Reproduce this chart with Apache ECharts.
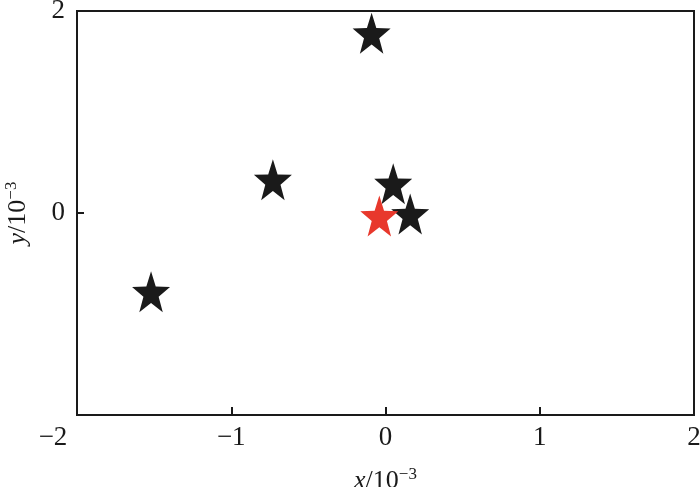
<!DOCTYPE html>
<html>
<head>
<meta charset="utf-8">
<script src="https://cdn.jsdelivr.net/npm/echarts@6/dist/echarts.min.js"></script>
<style>html,body{margin:0;padding:0;background:#fff;}#c{width:700px;height:487px;}</style>
</head>
<body>
<div id="c"></div>
<script>
// Data (units of 10^-3)
var blackX = [-0.09, -0.73, -1.52, 0.05, 0.16];
var blackY = [1.78, 0.33, -0.78, 0.29, -0.01];
var redX = [-0.04];
var redY = [-0.03];
var xTicks = [-2, -1, 0, 1, 2];
var yTicks = [-2, 0, 2];

var STAR = 'path://M50 0 L61.76 33.82 L97.55 34.55 L69.02 56.18 L79.39 90.45 L50 70 L20.61 90.45 L30.98 56.18 L2.45 34.55 L38.24 33.82 Z';
var FONT = 'Liberation Serif';
var INK = '#1a1a1a';
var FS = 27;

function pairs(xs, ys) { return xs.map(function (v, i) { return [v, ys[i]]; }); }
function fmt(v) { return v < 0 ? '\u2212' + Math.abs(v) : String(v); }
function nameRich() {
  return {
    i: {fontFamily: FONT, fontSize: 26, fontStyle: 'italic', color: INK, lineHeight: 30},
    n: {fontFamily: FONT, fontSize: 26, color: INK, lineHeight: 30},
    s: {fontFamily: FONT, fontSize: 17, color: INK, verticalAlign: 'top', lineHeight: 30, padding: [0, 0, 10, 0]}
  };
}

var chart = echarts.init(document.getElementById('c'), null, {renderer: 'canvas'});
chart.setOption({
  animation: false,
  backgroundColor: '#fff',
  grid: {left: 77, right: 6, top: 11, bottom: 72, outerBoundsMode: 'none', containLabel: false,
         show: true, borderColor: INK, borderWidth: 2, backgroundColor: 'transparent'},
  xAxis: {
    type: 'value', min: xTicks[0], max: xTicks[xTicks.length - 1], interval: 1,
    splitLine: {show: false},
    axisLine: {show: true, onZero: false, lineStyle: {color: INK, width: 2}},
    axisTick: {show: true, inside: true, length: 8, lineStyle: {color: INK, width: 2}},
    axisLabel: {
      margin: 9, color: INK, fontFamily: FONT, fontSize: FS,
      formatter: function (v) { return v === xTicks[0] ? '{m|' + fmt(v) + '}' : fmt(v); },
      rich: {m: {fontFamily: FONT, fontSize: FS, color: INK, padding: [0, 48, 0, 0]}}
    },
    name: '{i|x}{n|/10}{s|\u22123}',
    nameLocation: 'middle', nameGap: 51,
    nameTextStyle: {color: INK, fontFamily: FONT, fontSize: 26, rich: nameRich()}
  },
  yAxis: {
    type: 'value', min: yTicks[0], max: yTicks[yTicks.length - 1], interval: 2,
    splitLine: {show: false},
    axisLine: {show: true, onZero: false, lineStyle: {color: INK, width: 2}},
    axisTick: {show: true, inside: true, length: 7, lineStyle: {color: INK, width: 2}},
    axisLabel: {
      margin: 12, color: INK, fontFamily: FONT, fontSize: FS,
      showMinLabel: false,
      formatter: function (v) { return v === yTicks[0] ? '' : fmt(v); }
    },
    name: '{i|y}{n|/10}{s|\u22123}',
    nameLocation: 'middle', nameGap: 44,
    nameTextStyle: {color: INK, fontFamily: FONT, fontSize: 26, rich: nameRich()}
  },
  series: [
    {type: 'scatter', data: pairs(blackX, blackY), symbol: STAR, symbolSize: [38, 41], itemStyle: {color: '#1a1a1a', opacity: 1}, z: 2},
    {type: 'scatter', data: pairs(redX, redY), symbol: STAR, symbolSize: [38, 41], itemStyle: {color: '#e8382c', opacity: 1}, z: 3}
  ]
});
</script>
</body>
</html>
